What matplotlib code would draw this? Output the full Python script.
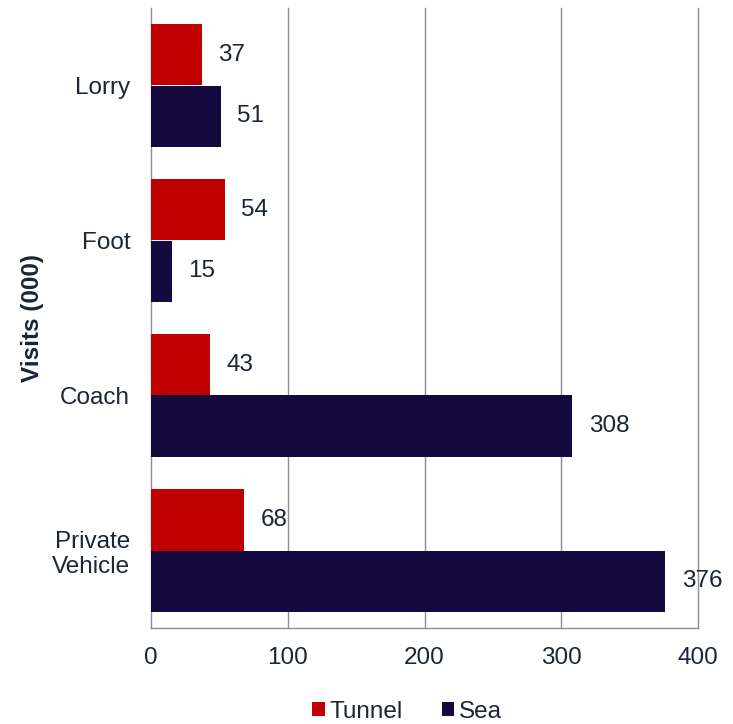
import matplotlib
matplotlib.use("Agg")
import matplotlib.pyplot as plt
import numpy as np

categories = ["Lorry", "Foot", "Coach", "Private\nVehicle"]
tunnel = [37, 54, 43, 68]
sea = [51, 15, 308, 376]
xticks = [0, 100, 200, 300, 400]

plt.rcParams["font.family"] = ["Liberation Sans", "DejaVu Sans"]
text_color = "#1b2536"
tunnel_color = "#c00000"
sea_color = "#140a40"
grid_color = "#8c8c9c"
fs = 17.5

fig = plt.figure(figsize=(7.33, 7.24), dpi=100)
ax = fig.add_axes([151 / 733, 1 - 628 / 724, 547 / 733, 620 / 724])

y = np.arange(len(categories))
h = 0.395
bt = ax.barh(y - h / 2, tunnel, height=h, color=tunnel_color, label="Tunnel", zorder=3)
bs = ax.barh(y + h / 2, sea, height=h, color=sea_color, label="Sea", zorder=3)

for bars, vals in ((bt, tunnel), (bs, sea)):
    for b, v in zip(bars, vals):
        ax.text(v + 12, b.get_y() + b.get_height() / 2, f"{v}", va="center", ha="left",
                fontsize=fs, color=text_color)

ax.set_xlim(0, 400)
ax.set_ylim(len(categories) - 0.5, -0.5)
ax.set_xticks(xticks)
ax.set_xticklabels([str(t) for t in xticks])
ax.set_yticks(y)
ax.set_yticklabels(categories, fontsize=fs, color=text_color, linespacing=1.15)
ax.tick_params(axis="x", labelsize=fs, labelcolor=text_color, length=0, pad=14)
ax.tick_params(axis="y", length=0, pad=15)

for t in xticks[1:]:
    ax.axvline(t, color=grid_color, linewidth=1, zorder=0, clip_on=False)
for s in ("top", "right"):
    ax.spines[s].set_visible(False)
for s in ("left", "bottom"):
    ax.spines[s].set_color(grid_color)
    ax.spines[s].set_linewidth(1)

fig.text(33 / 733, 1 - 318 / 724, "Visits (000)", rotation=90, ha="center", va="center",
         fontsize=fs, fontweight="bold", color=text_color)

fig.legend(handles=[bt, bs], labels=["Tunnel", "Sea"], loc="center",
           bbox_to_anchor=(407 / 733, 1 - 712 / 724), ncol=2, frameon=False,
           fontsize=fs, labelcolor=text_color, handlelength=0.52, handleheight=0.52,
           handletextpad=0.2, columnspacing=1.6)

fig.savefig("out.png", dpi=100)
